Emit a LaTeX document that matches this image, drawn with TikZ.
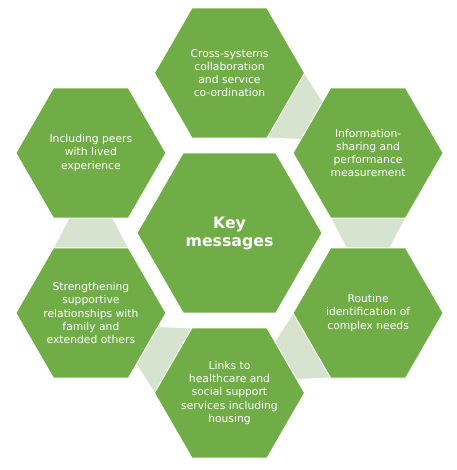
\documentclass[tikz,border=0pt]{standalone}
\usepackage{fontspec}
\setmainfont{DejaVu Sans}
\usetikzlibrary{calc}
\definecolor{hexgreen}{RGB}{112,173,71}
\definecolor{linkgreen}{RGB}{214,227,207}
\begin{document}
\begin{tikzpicture}[x=1bp,y=1bp,
  hexbox/.style={fill=hexgreen, draw=white, line width=0.8bp, line join=miter},
  linkbox/.style={fill=linkgreen, draw=white, line width=0.8bp},
  hextext/.style={text=white, align=center, font=\fontsize{10.8}{13.3}\selectfont, inner sep=0pt},
  keytext/.style={text=white, align=center, font=\fontsize{15.8}{18}\selectfont\bfseries, inner sep=0pt}]
\useasboundingbox (0,0) rectangle (457,470);
\def\R{75}
\coordinate (cC) at (229.5,237);
\coordinate (cT) at (229.5,397);
\coordinate (cTR) at (368.1,317);
\coordinate (cBR) at (368.1,157);
\coordinate (cB) at (229.5,77);
\coordinate (cBL) at (90.9,157);
\coordinate (cTL) at (90.9,317);
% connectors between neighbouring hexagons
\foreach \s/\d/\p in {cT/cTR/-30, cTR/cBR/-90, cBR/cB/210, cB/cBL/150, cBL/cTL/90} {
  \path[linkbox] ($(\s)+(\p:0.866*\R)+(\p+90:0.5*\R)$)
    -- ($(\d)+(\p+180:0.866*\R)+(\p+90:0.29*\R)$)
    -- ($(\d)+(\p+180:0.866*\R)+(\p+90:-0.29*\R)$)
    -- ($(\s)+(\p:0.866*\R)+(\p+90:-0.5*\R)$) -- cycle;
}
% hexagons
\foreach \c/\r in {cC/92.5, cT/75, cTR/75, cBR/75, cB/75, cBL/75, cTL/75} {
  \path[hexbox] ($(\c)+(0:\r)$) -- ($(\c)+(60:\r)$) -- ($(\c)+(120:\r)$)
    -- ($(\c)+(180:\r)$) -- ($(\c)+(240:\r)$) -- ($(\c)+(300:\r)$) -- cycle;
}
% texts
\node[keytext] (tC) at (cC) {Key\\messages};
\node[hextext] (tT) at (cT) {Cross-systems\\collaboration\\and service\\co-ordination};
\node[hextext] (tTR) at (cTR) {Information-\\sharing and\\performance\\measurement};
\node[hextext] (tBR) at (cBR) {Routine\\identification of\\complex needs};
\node[hextext] (tB) at (cB) {Links to\\healthcare and\\social support\\services including\\housing};
\node[hextext] (tBL) at (cBL) {Strengthening\\supportive\\relationships with\\family and\\extended others};
\node[hextext] (tTL) at (cTL) {Including peers\\with lived\\experience};
\end{tikzpicture}
\end{document}
